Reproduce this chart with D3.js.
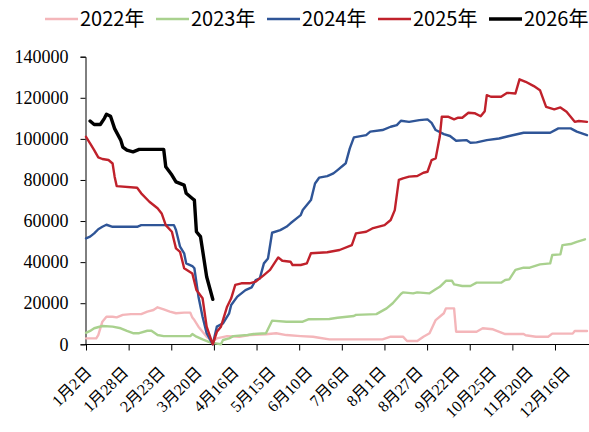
<!DOCTYPE html>
<html>
<head>
<meta charset="utf-8">
<script src="https://cdn.jsdelivr.net/npm/d3@7"></script>
<style>
body { margin: 0; background: #fff; }
.axis-y text { font-family: "Liberation Serif", "DejaVu Serif", serif; font-size: 18px; }
.axis-x text { font-family: "Liberation Serif", "DejaVu Serif", "Noto Sans CJK SC", serif; font-size: 16px; }
</style>
</head>
<body>
<div id="mainDiv"></div>
<script>
'use strict';

// legend names and colours
var years = ['2022年', '2023年', '2024年', '2025年', '2026年'];
var colors = ['#f4b6ba', '#a9d18e', '#2f5597', '#c0212b', '#000000'];

// x axis: trading-day index, a label every 18 days
var dayLabels = ['1月2日', '1月28日', '2月23日', '3月20日', '4月16日', '5月15日', '6月10日',
                 '7月6日', '8月1日', '8月27日', '9月22日', '10月25日', '11月20日', '12月16日'];
var yTicks = [0, 20000, 40000, 60000, 80000, 100000, 120000, 140000];

// [day index, value]
var s2022 = [[0,2900],[5,2900],[6,4500],[8,11000],[10,13400],[13,13400],[15,13100],[18,14300],[22,14700],[27,14700],[30,15900],[33,16700],[35,18000],[38,17000],[41,15900],[44,15100],[48,15400],[51,15400],[52,13000],[53,11800],[55,8600],[59,3700],[62,1300],[64,2900],[69,4000],[75,3700],[80,4500],[88,4900],[93,5400],[98,4500],[105,4000],[111,3700],[114,3200],[119,2400],[145,2400],[149,3700],[155,3700],[157,1600],[162,1600],[165,3700],[168,5400],[171,11800],[175,15100],[176,17500],[180,17500],[181,6100],[191,6100],[194,7800],[199,7300],[205,5000],[214,5000],[215,4400],[220,3700],[226,3700],[228,5200],[238,5200],[239,6500],[245,6500]];

var s2023 = [[0,5600],[2,6500],[4,7800],[8,8900],[13,8600],[17,7800],[20,6500],[23,5400],[26,5400],[30,6600],[32,6600],[35,4500],[38,4000],[51,4000],[52,5000],[54,3700],[57,2400],[61,800],[66,0],[67,2100],[70,2900],[72,4000],[79,4500],[82,5000],[88,5400],[91,11500],[98,11000],[106,11000],[109,12200],[119,12300],[123,12900],[131,13800],[132,14300],[142,14700],[147,17500],[150,20000],[154,24500],[155,25300],[160,24800],[162,25300],[168,24800],[171,26800],[173,28000],[176,30900],[179,30900],[180,29200],[184,28400],[188,28400],[191,30000],[203,30000],[205,31300],[207,31600],[210,36200],[214,37300],[217,37300],[222,38900],[227,39400],[228,43500],[232,43800],[233,48300],[237,48800],[240,49900],[244,51100]];

var s2024 = [[0,51600],[2,52400],[4,54000],[6,56000],[8,57200],[10,58200],[13,57200],[25,57200],[27,58000],[43,58000],[44,55600],[46,47500],[48,44300],[49,39400],[52,38100],[53,37000],[55,23200],[57,13400],[59,5400],[62,0],[64,8600],[67,10200],[70,15100],[71,19100],[74,23200],[78,26400],[81,27700],[83,31300],[85,32100],[87,39400],[89,41800],[91,54300],[95,55600],[98,57200],[100,58900],[103,61300],[105,62900],[106,65400],[108,67800],[110,70200],[112,78300],[114,81100],[118,81900],[121,83200],[123,84800],[126,87300],[127,88100],[129,95400],[131,100700],[137,101800],[139,103500],[145,104300],[149,105900],[152,106700],[154,108800],[158,108300],[163,109100],[167,109500],[169,107800],[171,104300],[175,102300],[178,101400],[181,99100],[186,99400],[188,98100],[191,98300],[196,99400],[202,100200],[207,101400],[214,103000],[227,103000],[231,105100],[237,105100],[240,103500],[245,101800]];

var s2025 = [[0,101000],[2,97800],[4,94500],[6,91000],[8,90200],[11,89700],[13,88000],[14,81600],[15,77000],[25,76200],[27,73500],[31,69400],[35,66200],[37,63700],[39,58000],[42,54800],[44,46700],[46,45000],[48,37000],[52,34500],[54,26400],[57,22400],[59,8600],[62,0],[64,6100],[66,8600],[69,18300],[71,22400],[73,28900],[76,29700],[80,29700],[83,30500],[87,33700],[90,36200],[94,42300],[96,40700],[100,40200],[101,38600],[105,38600],[108,39400],[110,44300],[118,44800],[124,45900],[130,48300],[132,54000],[137,54800],[140,56400],[146,58000],[149,60500],[151,65300],[153,80000],[155,80800],[158,81600],[162,81900],[165,83500],[167,84000],[169,89700],[171,90500],[173,101000],[174,110800],[177,110800],[180,109500],[182,110300],[184,110300],[187,112700],[190,112500],[193,111000],[195,113500],[196,121300],[198,120500],[203,120500],[206,122400],[210,122100],[212,129000],[215,127800],[219,125700],[222,123700],[225,115600],[229,114400],[232,115300],[235,113200],[239,108300],[241,108700],[245,108300]];

var s2026 = [[2,108700],[4,107000],[7,107000],[9,110000],[10,112000],[12,111000],[14,105000],[17,99400],[18,96000],[20,94500],[23,93700],[26,94900],[38,94900],[39,86400],[42,82400],[44,79100],[48,77500],[49,73500],[52,71000],[53,70200],[54,54800],[56,52400],[57,45900],[59,32900],[62,21900]];

var chart = {};
chart.w = 589;
chart.h = 432;
chart.svg = undefined;

chart.x = d3.scaleLinear().domain([0, 245]).range([86, 587]);
chart.y = d3.scaleLinear().domain([0, 140000]).range([344.3, 56.7]);

chart.appendSvg = function(div)
{
    chart.svg = d3.select(div).append('svg')
        .attr('width', chart.w)
        .attr('height', chart.h);
}

chart.drawAxes = function()
{
    var yAxis = d3.axisLeft(chart.y)
        .tickValues(yTicks)
        .tickFormat(d3.format('d'))
        .tickSizeOuter(0)
        .tickSize(5)
        .tickPadding(12);

    var gy = chart.svg.append('g')
        .attr('class', 'axis-y')
        .attr('transform', 'translate(85.5,0)')
        .call(yAxis);
    gy.selectAll('text').attr('fill', '#000');

    // tick marks, about every 20.85 days
    var tickDays = d3.range(12).map(function(i) { return i * 20.85; });
    var xTicks = d3.axisBottom(chart.x)
        .tickValues(tickDays)
        .tickFormat('')
        .tickSizeOuter(0)
        .tickSize(6);
    var gx = chart.svg.append('g')
        .attr('transform', 'translate(0,344.5)')
        .call(xTicks);
    gx.select('.domain').attr('d', 'M85,0H589');

    // date labels every 18 days
    var xLabels = d3.axisBottom(chart.x)
        .tickValues(dayLabels.map(function(d, i) { return i * 18; }))
        .tickFormat(function(d) { return dayLabels[d / 18]; })
        .tickSize(0);
    var gl = chart.svg.append('g')
        .attr('class', 'axis-x')
        .attr('transform', 'translate(0,344.5)')
        .call(xLabels);
    gl.select('.domain').remove();
    gl.selectAll('text')
        .attr('x', 0)
        .attr('y', 0)
        .attr('dy', 0)
        .attr('text-anchor', 'end')
        .attr('transform', 'translate(6,29) rotate(-45)')
        .attr('fill', '#000');

    chart.svg.selectAll('.domain, .tick line').attr('stroke', '#000');
}

chart.drawLines = function()
{
    var all = [s2022, s2023, s2024, s2025, s2026];
    var line = d3.line()
        .x(function(d) { return chart.x(d[0]); })
        .y(function(d) { return chart.y(d[1]); });

    chart.svg.append('g').selectAll('path')
        .data(all)
        .enter()
        .append('path')
        .attr('d', line)
        .attr('fill', 'none')
        .attr('stroke', function(d, i) { return colors[i]; })
        .attr('stroke-width', function(d, i) { return i == 4 ? 3.4 : 2.4; })
        .attr('stroke-linejoin', 'round')
        .attr('stroke-linecap', 'round');
}

chart.drawLegend = function()
{
    var items = chart.svg.append('g').selectAll('g')
        .data(years)
        .enter()
        .append('g')
        .attr('transform', function(d, i) { return 'translate(' + (45 + i * 111) + ',19)'; });

    items.append('line')
        .attr('x1', 0).attr('x2', 33)
        .attr('stroke', function(d, i) { return colors[i]; })
        .attr('stroke-width', function(d, i) { return i == 4 ? 3.4 : 2.6; });

    items.append('text')
        .attr('x', 35)
        .attr('dy', '0.36em')
        .text(function(d) { return d; })
        .style('font-family', '"Noto Sans CJK SC", sans-serif')
        .style('font-size', '20px')
        .attr('fill', '#000');
}

chart.run = function()
{
    chart.appendSvg('#mainDiv');
    chart.drawAxes();
    chart.drawLines();
    chart.drawLegend();
}

window.onload = chart.run;
</script>
</body>
</html>
